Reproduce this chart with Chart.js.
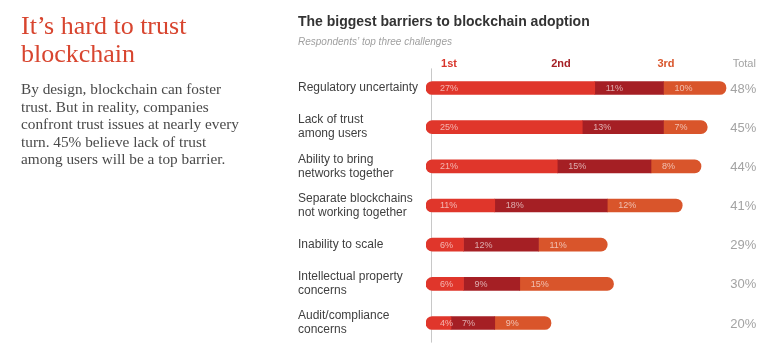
<!DOCTYPE html>
<html>
<head>
<meta charset="utf-8">
<script src="https://cdn.jsdelivr.net/npm/chart.js@4/dist/chart.umd.min.js"></script>
<style>
  html, body { margin: 0; padding: 0; background: #fff; width: 783px; height: 359px; overflow: hidden; }
  #wrap { position: relative; width: 783px; height: 359px; }
  #c { position: absolute; left: 0; top: 0; }
  .side { position: absolute; left: 21px; font-family: "Liberation Serif", serif; white-space: nowrap; }
  #head { top: 12px; font-size: 26px; line-height: 28px; color: #d8452f; }
  #body { top: 80px; font-size: 15.3px; line-height: 17.5px; color: #4a4a4a; }
</style>
</head>
<body>
<div id="wrap">
  <canvas id="c" width="783" height="359"></canvas>
  <div class="side" id="head">It’s hard to trust<br>blockchain</div>
  <div class="side" id="body">By design, blockchain can foster<br>trust. But in reality, companies<br>confront trust issues at nearly every<br>turn. 45% believe lack of trust<br>among users will be a top barrier.</div>
</div>
<script>
const categories = [
  ["Regulatory uncertainty"],
  ["Lack of trust", "among users"],
  ["Ability to bring", "networks together"],
  ["Separate blockchains", "not working together"],
  ["Inability to scale"],
  ["Intellectual property", "concerns"],
  ["Audit/compliance", "concerns"]
];
const first  = [27, 25, 21, 11, 6, 6, 4];
const second = [11, 13, 15, 18, 12, 9, 7];
const third  = [10, 7, 8, 12, 11, 15, 9];
const totals = [48, 45, 44, 41, 29, 30, 20];
const seriesNames = ["1st", "2nd", "3rd"];
const totalLabel = "Total";

const colors = ["#e0362b", "#a51f24", "#d9552b"];
const headerColors = ["#d9352b", "#a51f24", "#d9552b"];
const SANS = "'Liberation Sans', Arial, sans-serif";

const overlay = {
  id: "overlay",
  beforeDatasetsDraw(chart) {
    const ctx = chart.ctx, a = chart.chartArea;
    ctx.save();
    ctx.strokeStyle = "#c8c8c8";
    ctx.lineWidth = 1;
    ctx.beginPath();
    ctx.moveTo(Math.round(a.left + 5) + 0.5, a.top);
    ctx.lineTo(Math.round(a.left + 5) + 0.5, a.bottom);
    ctx.stroke();
    ctx.restore();
  },
  afterDatasetsDraw(chart) {
    const ctx = chart.ctx, a = chart.chartArea;
    ctx.save();
    // in-bar value labels
    ctx.font = "9px " + SANS;
    ctx.textBaseline = "middle";
    ctx.textAlign = "left";
    ctx.fillStyle = "rgba(255,255,255,0.62)";
    chart.data.datasets.forEach((ds, di) => {
      const meta = chart.getDatasetMeta(di);
      meta.data.forEach((el, i) => {
        const start = Math.min(el.base, el.x);
        const off = di === 0 ? 14 : 11;
        ctx.fillText(ds.data[i] + "%", start + off, el.y + 0.5);
      });
    });
    // totals
    ctx.font = "13px " + SANS;
    ctx.fillStyle = "#a3a3a3";
    ctx.textAlign = "right";
    const meta0 = chart.getDatasetMeta(0);
    meta0.data.forEach((el, i) => {
      ctx.fillText(totals[i] + "%", a.right - 1, el.y + 1);
    });
    // column headers
    const headerOffsets = [23, 135, 240];
    ctx.font = "bold 11px " + SANS;
    ctx.textAlign = "center";
    ctx.textBaseline = "alphabetic";
    seriesNames.forEach((n, k) => {
      ctx.fillStyle = headerColors[k];
      ctx.fillText(n, a.left + headerOffsets[k], 67);
    });
    ctx.fillStyle = "#a3a3a3";
    ctx.font = "11px " + SANS;
    ctx.fillText(totalLabel, a.right - 13, 67);
    ctx.restore();
  }
};

function radius(k) {
  if (k === 0) return { topLeft: 7, bottomLeft: 7, topRight: 0, bottomRight: 0 };
  if (k === 2) return { topLeft: 0, bottomLeft: 0, topRight: 7, bottomRight: 7 };
  return 0;
}

new Chart(document.getElementById("c"), {
  type: "bar",
  data: {
    labels: categories,
    datasets: [first, second, third].map((d, k) => ({
      label: seriesNames[k],
      data: d,
      backgroundColor: colors[k],
      borderWidth: 0,
      borderSkipped: false,
      borderRadius: radius(k),
      barThickness: 13
    }))
  },
  options: {
    indexAxis: "y",
    responsive: false,
    animation: false,
    events: [],
    layout: { padding: { left: 298, right: 25.75, top: 0, bottom: 16.4 } },
    scales: {
      x: {
        stacked: true, display: false, min: 0, max: 53
      },
      y: {
        stacked: true,
        grid: { display: false },
        border: { display: false },
        ticks: {
          crossAlign: "far",
          padding: 0,
          color: "#3f3f3f",
          font: { family: SANS, size: 12, lineHeight: 1.17 }
        },
        afterFit(scale) { scale.width = 128; }
      }
    },
    plugins: {
      legend: { display: false },
      tooltip: { enabled: false },
      title: {
        display: true,
        text: "The biggest barriers to blockchain adoption",
        align: "start",
        color: "#333",
        font: { family: SANS, size: 14, weight: "bold", lineHeight: 1.2 },
        padding: { top: 13.3, bottom: 5.9 }
      },
      subtitle: {
        display: true,
        text: "Respondents’ top three challenges",
        align: "start",
        color: "#a0a0a0",
        font: { family: SANS, size: 10, style: "italic", lineHeight: 1.2 },
        padding: { top: 0, bottom: 20.4 }
      }
    }
  },
  plugins: [overlay]
});
</script>
</body>
</html>
